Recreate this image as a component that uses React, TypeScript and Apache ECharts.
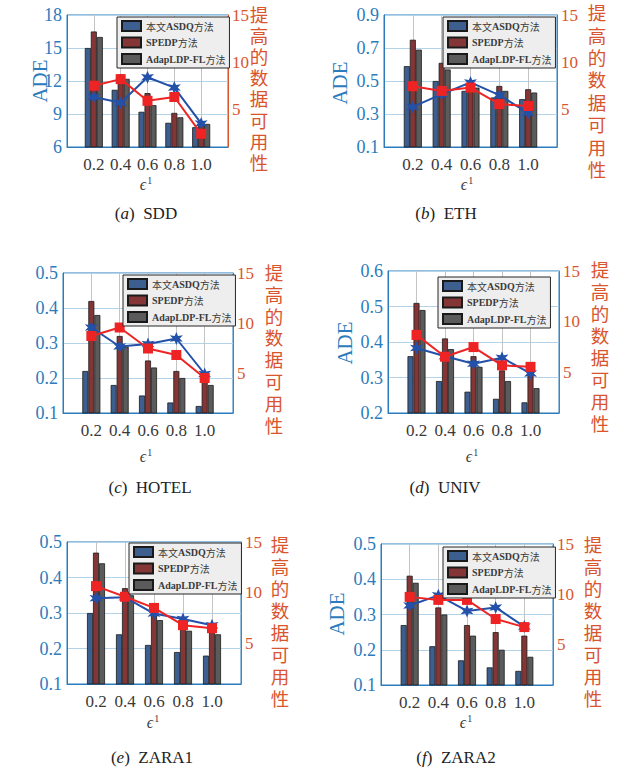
import React, { useEffect, useRef } from 'react';
import * as echarts from 'echarts';

// ---------- data ----------
const EPS = [0.2, 0.4, 0.6, 0.8, 1.0];
const X_TICKS = ['0.2', '0.4', '0.6', '0.8', '1.0'];
const BAR_NAMES = ['本文ASDQ方法', 'SPEDP方法', 'AdapLDP-FL方法'];
const RIGHT_NAME = '提高的数据可用性';
const LEFT_NAME = 'ADE';
const EPS_LABEL = 'ϵ';
const RIGHT_TICKS = [5, 10, 15];

const DATASETS = ['SDD', 'ETH', 'HOTEL', 'UNIV', 'ZARA1', 'ZARA2'];
const LETTERS = ['a', 'b', 'c', 'd', 'e', 'f'];

const SDD_ASDQ = [15.0, 11.2, 9.2, 8.2, 7.8];
const SDD_SPEDP = [16.5, 12.6, 10.9, 9.1, 8.3];
const SDD_ADAP = [16.0, 12.2, 9.8, 8.7, 8.1];
const SDD_GAIN_BLUE = [6.3, 5.7, 8.4, 7.3, 3.5];
const SDD_GAIN_RED = [7.5, 8.2, 5.9, 6.3, 2.4];

const ETH_ASDQ = [0.59, 0.5, 0.44, 0.4, 0.39];
const ETH_SPEDP = [0.75, 0.61, 0.48, 0.47, 0.45];
const ETH_ADAP = [0.69, 0.57, 0.46, 0.44, 0.43];
const ETH_GAIN_BLUE = [5.25, 6.6, 7.85, 6.5, 4.6];
const ETH_GAIN_RED = [7.45, 6.95, 7.3, 5.55, 5.35];

const HOTEL_ASDQ = [0.22, 0.18, 0.15, 0.13, 0.12];
const HOTEL_SPEDP = [0.42, 0.32, 0.25, 0.22, 0.2];
const HOTEL_ADAP = [0.38, 0.29, 0.23, 0.2, 0.18];
const HOTEL_GAIN_BLUE = [9.55, 7.65, 7.9, 8.45, 4.9];
const HOTEL_GAIN_RED = [8.7, 9.55, 7.45, 6.8, 4.5];

const UNIV_ASDQ = [0.36, 0.29, 0.26, 0.24, 0.23];
const UNIV_SPEDP = [0.51, 0.41, 0.36, 0.32, 0.31];
const UNIV_ADAP = [0.49, 0.38, 0.33, 0.29, 0.27];
const UNIV_GAIN_BLUE = [7.4, 6.6, 5.85, 6.45, 4.9];
const UNIV_GAIN_RED = [8.7, 6.55, 7.5, 5.7, 5.55];

const ZARA1_ASDQ = [0.3, 0.24, 0.21, 0.19, 0.18];
const ZARA1_SPEDP = [0.47, 0.37, 0.3, 0.26, 0.25];
const ZARA1_ADAP = [0.44, 0.35, 0.28, 0.25, 0.24];
const ZARA1_GAIN_BLUE = [9.45, 9.55, 7.95, 7.4, 6.8];
const ZARA1_GAIN_RED = [10.65, 9.6, 8.5, 6.8, 6.5];

const ZARA2_ASDQ = [0.27, 0.21, 0.17, 0.15, 0.14];
const ZARA2_SPEDP = [0.41, 0.32, 0.27, 0.25, 0.24];
const ZARA2_ADAP = [0.39, 0.3, 0.24, 0.2, 0.18];
const ZARA2_GAIN_BLUE = [8.9, 9.9, 8.35, 8.7, 6.8];
const ZARA2_GAIN_RED = [9.75, 9.45, 9.45, 7.55, 6.75];

const BARS = [
  [SDD_ASDQ, SDD_SPEDP, SDD_ADAP],
  [ETH_ASDQ, ETH_SPEDP, ETH_ADAP],
  [HOTEL_ASDQ, HOTEL_SPEDP, HOTEL_ADAP],
  [UNIV_ASDQ, UNIV_SPEDP, UNIV_ADAP],
  [ZARA1_ASDQ, ZARA1_SPEDP, ZARA1_ADAP],
  [ZARA2_ASDQ, ZARA2_SPEDP, ZARA2_ADAP],
];
const GAINS = [
  [SDD_GAIN_BLUE, SDD_GAIN_RED],
  [ETH_GAIN_BLUE, ETH_GAIN_RED],
  [HOTEL_GAIN_BLUE, HOTEL_GAIN_RED],
  [UNIV_GAIN_BLUE, UNIV_GAIN_RED],
  [ZARA1_GAIN_BLUE, ZARA1_GAIN_RED],
  [ZARA2_GAIN_BLUE, ZARA2_GAIN_RED],
];
// left axis [min, max, interval, decimals]
const LEFT_RANGES = [
  [6, 18, 3, 0],
  [0.1, 0.9, 0.2, 1],
  [0.1, 0.5, 0.1, 1],
  [0.2, 0.6, 0.1, 1],
  [0.1, 0.5, 0.1, 1],
  [0.1, 0.5, 0.1, 1],
];
const RIGHT_RANGE = [1, 15];

// ---------- layout ----------
const LAYOUT = [
  { grid: { left: 67, top: 15, width: 161, height: 132 }, legend: [117, 17], ade: [40, 81], rname: [259, 5, 21.2], eps: [146, 184], cap: [146, 213] },
  { grid: { left: 384, top: 15, width: 173, height: 132 }, legend: [443, 17], ade: [340, 83], rname: [597, 3, 22.4], eps: [467, 184], cap: [446, 213] },
  { grid: { left: 63, top: 273, width: 170, height: 140 }, legend: [123, 275], ade: null, rname: [274, 263, 21.8], eps: [146, 456], cap: [150, 487] },
  { grid: { left: 388, top: 271, width: 171, height: 142 }, legend: [438, 277], ade: [345, 343], rname: [600, 260, 22], eps: [472, 456], cap: [445, 487] },
  { grid: { left: 67, top: 542, width: 174, height: 142 }, legend: [129, 543], ade: null, rname: [280, 535, 22], eps: [153, 722], cap: [152, 757] },
  { grid: { left: 381, top: 544, width: 172, height: 141 }, legend: [443, 547], ade: [337, 614], rname: [593, 535, 22], eps: [466, 722], cap: [456, 757] },
];

const SERIF = '"Liberation Serif", "Noto Sans CJK SC", serif';
const AXIS_BLUE = '#2b7bbd';
const RIGHT_RED = '#d9552e';
const BAR_COLORS = ['#3d5f8f', '#843636', '#5b5b5b'];
const LINE_BLUE = '#2350a8';
const LINE_RED = '#ee2424';
const STAR =
  'path://M10 0L12.25 6.1L18.66 5L14.5 10L18.66 15L12.25 13.9L10 20L7.75 13.9L1.34 15L5.5 10L1.34 5L7.75 6.1Z';

// legend label: latin runs bold, CJK runs regular
function legendRich(name: string) {
  const runs = name.match(/[\u4e00-\u9fff]+|[^\u4e00-\u9fff]+/g) || [];
  return runs.map((r) => (/[\u4e00-\u9fff]/.test(r) ? '{c|' + r + '}' : '{l|' + r + '}')).join('');
}

function buildOption() {
  const grid: any[] = [];
  const xAxis: any[] = [];
  const yAxis: any[] = [];
  const series: any[] = [];
  const legend: any[] = [];
  const graphic: any[] = [];

  LAYOUT.forEach((lay, i) => {
    grid.push({
      ...lay.grid,
      show: true,
      borderColor: AXIS_BLUE,
      borderWidth: 1,
      backgroundColor: 'transparent',
    });
    xAxis.push({
      type: 'value',
      gridIndex: i,
      min: 0,
      max: 1.2,
      interval: 0.2,
      axisLine: { show: true, lineStyle: { color: AXIS_BLUE, width: 1 } },
      axisTick: { show: false },
      axisLabel: {
        color: '#3a3a3a',
        fontSize: 17,
        fontFamily: SERIF,
        margin: 9,
        formatter: (v: number) => {
          const idx = Math.round(v / 0.2) - 1;
          return X_TICKS[idx] ?? '';
        },
      },
      splitLine: { show: true, lineStyle: { color: '#c4c4c4', width: 1 } },
    });
    const [lmin, lmax, lint, dec] = LEFT_RANGES[i];
    yAxis.push({
      type: 'value',
      gridIndex: i,
      position: 'left',
      min: lmin,
      max: lmax,
      interval: lint,
      axisLine: { show: true, lineStyle: { color: AXIS_BLUE, width: 1 } },
      axisTick: { show: false },
      axisLabel: {
        color: AXIS_BLUE,
        fontSize: 18,
        fontFamily: SERIF,
        margin: 5,
        formatter: (v: number) => v.toFixed(dec),
      },
      splitLine: { show: true, lineStyle: { color: '#b3d3ea', width: 1 } },
    });
    yAxis.push({
      type: 'value',
      gridIndex: i,
      position: 'right',
      min: RIGHT_RANGE[0],
      max: RIGHT_RANGE[1],
      interval: 1,
      axisLine: { show: true, lineStyle: { color: RIGHT_RED, width: 1 } },
      axisTick: { show: false },
      axisLabel: {
        color: RIGHT_RED,
        fontSize: 17,
        fontFamily: SERIF,
        margin: 4,
        formatter: (v: number) =>
          RIGHT_TICKS.includes(Math.round(v)) && Math.abs(v - Math.round(v)) < 1e-6 ? String(Math.round(v)) : '',
      },
      splitLine: { show: false },
    });

    BARS[i].forEach((vals, k) => {
      series.push({
        type: 'bar',
        name: BAR_NAMES[k],
        xAxisIndex: i,
        yAxisIndex: 2 * i,
        barWidth: 6,
        barGap: '0%',
        itemStyle: { color: BAR_COLORS[k], borderColor: '#1a1a1a', borderWidth: 0.8 },
        data: EPS.map((x, j) => [x, vals[j]]),
        z: 2,
      });
    });
    const [blue, red] = GAINS[i];
    series.push({
      type: 'line',
      name: 'gain-blue-' + i,
      xAxisIndex: i,
      yAxisIndex: 2 * i + 1,
      symbol: STAR,
      symbolSize: 13,
      lineStyle: { color: LINE_BLUE, width: 2 },
      itemStyle: { color: LINE_BLUE },
      data: EPS.map((x, j) => [x, blue[j]]),
      z: 5,
    });
    series.push({
      type: 'line',
      name: 'gain-red-' + i,
      xAxisIndex: i,
      yAxisIndex: 2 * i + 1,
      symbol: 'rect',
      symbolSize: 10,
      lineStyle: { color: LINE_RED, width: 2 },
      itemStyle: { color: LINE_RED },
      data: EPS.map((x, j) => [x, red[j]]),
      z: 6,
    });

    legend.push({
      orient: 'vertical',
      left: lay.legend[0],
      top: lay.legend[1],
      data: BAR_NAMES,
      icon: 'rect',
      itemWidth: 19,
      itemHeight: 10,
      itemGap: 4.5,
      itemTextGap: 4,
      padding: [3, 4, 3, 4],
      backgroundColor: '#eeeeee',
      borderColor: '#262626',
      borderWidth: 1,
      borderRadius: 0,
      selectedMode: false,
      formatter: legendRich,
      textStyle: {
        fontSize: 10,
        color: '#3b3b3b',
        fontFamily: SERIF,
        rich: {
          l: { fontSize: 10, fontWeight: 'bold', fontFamily: '"Liberation Serif", serif', color: '#3b3b3b' },
          c: { fontSize: 10, fontFamily: '"Noto Sans CJK SC", sans-serif', color: '#3b3b3b' },
        },
      },
      z: 10,
    });

    if (lay.ade) {
      graphic.push({
        type: 'text',
        x: lay.ade[0],
        y: lay.ade[1],
        rotation: Math.PI / 2,
        style: {
          text: LEFT_NAME,
          fill: AXIS_BLUE,
          fontSize: 21,
          fontFamily: SERIF,
          textAlign: 'center',
          textVerticalAlign: 'middle',
        },
      });
    }
    // right-axis name: characters stacked vertically
    RIGHT_NAME.split('').forEach((ch, c) => {
      graphic.push({
        type: 'text',
        x: lay.rname[0],
        y: lay.rname[1] + (c + 0.5) * lay.rname[2],
        style: {
          text: ch,
          fill: RIGHT_RED,
          fontSize: 18.5,
          fontFamily: '"Liberation Serif", "Noto Sans CJK SC", serif',
          textAlign: 'center',
          textVerticalAlign: 'middle',
        },
      });
    });
    graphic.push({
      type: 'text',
      x: lay.eps[0],
      y: lay.eps[1],
      style: {
        text: '{e|' + EPS_LABEL + '}{s|1}',
        textAlign: 'center',
        textVerticalAlign: 'middle',
        rich: {
          e: { fontSize: 16, fontStyle: 'italic', fontFamily: SERIF, fill: '#3a3a3a', lineHeight: 18 },
          s: { fontSize: 10, fontFamily: SERIF, fill: '#3a3a3a', verticalAlign: 'top', padding: [0, 0, 6, 1] },
        },
      },
    });
    graphic.push({
      type: 'text',
      x: lay.cap[0],
      y: lay.cap[1],
      style: {
        text: '{p|(}{i|' + LETTERS[i] + '}{p|)  ' + DATASETS[i] + '}',
        textAlign: 'center',
        textVerticalAlign: 'middle',
        rich: {
          p: { fontSize: 17, fontFamily: SERIF, fill: '#222' },
          i: { fontSize: 17, fontFamily: SERIF, fontStyle: 'italic', fill: '#222' },
        },
      },
    });
  });

  return {
    animation: false,
    backgroundColor: '#ffffff',
    grid,
    xAxis,
    yAxis,
    series,
    legend,
    graphic,
  };
}

export default function App() {
  const ref = useRef<HTMLDivElement>(null);
  useEffect(() => {
    if (!ref.current) return;
    const chart = echarts.init(ref.current, null, { renderer: 'svg' });
    chart.setOption(buildOption() as any);
    return () => {
      chart.dispose();
    };
  }, []);
  return (
    <div
      ref={ref}
      style={{ position: 'absolute', left: 0, top: 0, width: 618, height: 771, background: '#fff' }}
    />
  );
}
